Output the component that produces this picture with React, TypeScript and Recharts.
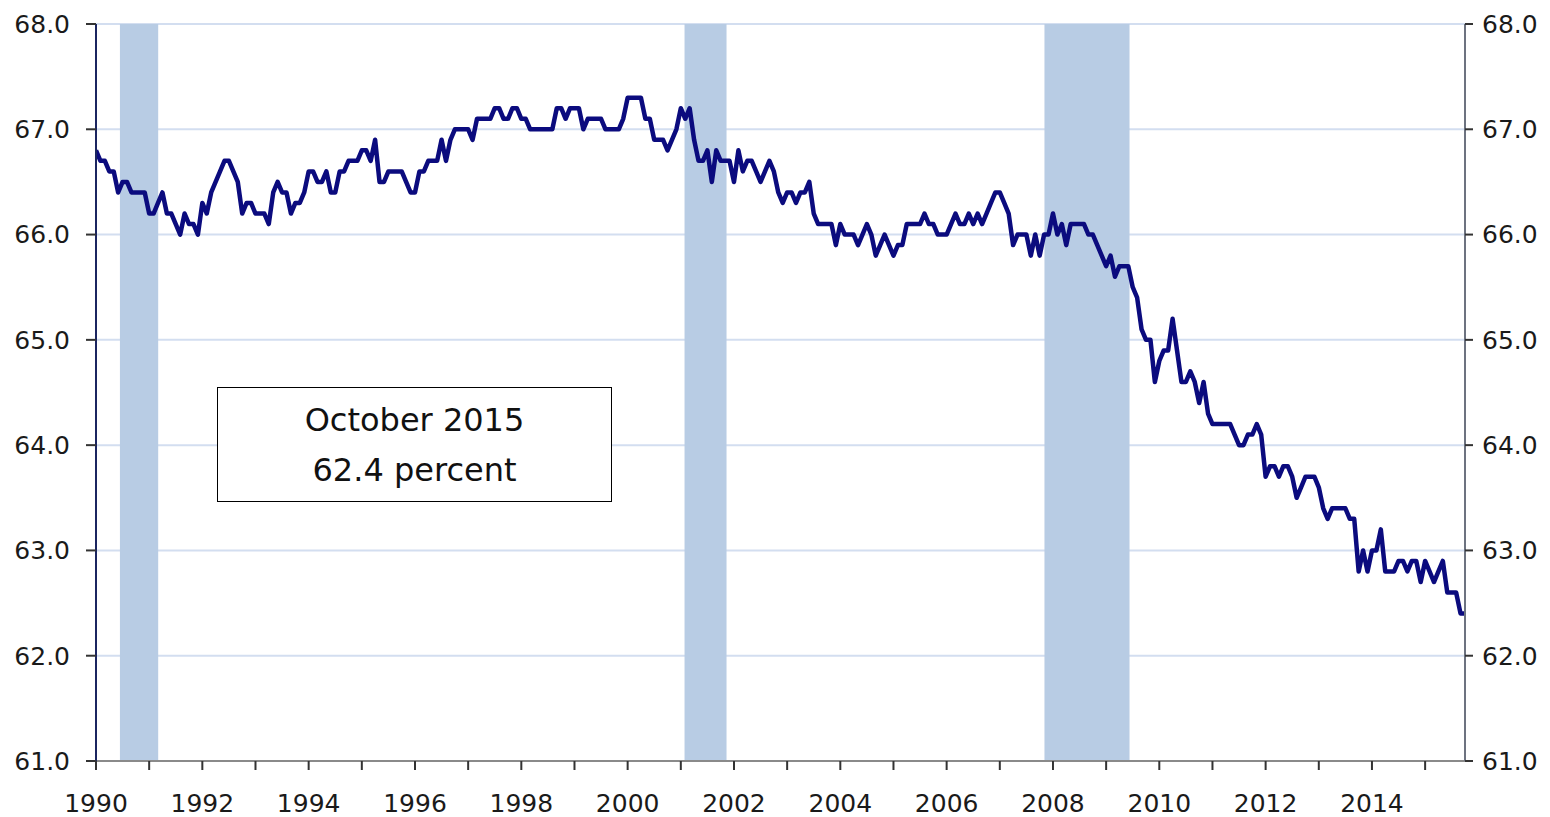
import {
  CartesianGrid,
  ComposedChart,
  Line,
  ReferenceArea,
  XAxis,
  YAxis,
} from "recharts";

// #region Sample data
// Monthly labor force participation rate, percent (Jan..Dec)
const startYear = 1990;
const r1990 = [66.8, 66.7, 66.7, 66.6, 66.6, 66.4, 66.5, 66.5, 66.4, 66.4, 66.4, 66.4];
const r1991 = [66.2, 66.2, 66.3, 66.4, 66.2, 66.2, 66.1, 66.0, 66.2, 66.1, 66.1, 66.0];
const r1992 = [66.3, 66.2, 66.4, 66.5, 66.6, 66.7, 66.7, 66.6, 66.5, 66.2, 66.3, 66.3];
const r1993 = [66.2, 66.2, 66.2, 66.1, 66.4, 66.5, 66.4, 66.4, 66.2, 66.3, 66.3, 66.4];
const r1994 = [66.6, 66.6, 66.5, 66.5, 66.6, 66.4, 66.4, 66.6, 66.6, 66.7, 66.7, 66.7];
const r1995 = [66.8, 66.8, 66.7, 66.9, 66.5, 66.5, 66.6, 66.6, 66.6, 66.6, 66.5, 66.4];
const r1996 = [66.4, 66.6, 66.6, 66.7, 66.7, 66.7, 66.9, 66.7, 66.9, 67.0, 67.0, 67.0];
const r1997 = [67.0, 66.9, 67.1, 67.1, 67.1, 67.1, 67.2, 67.2, 67.1, 67.1, 67.2, 67.2];
const r1998 = [67.1, 67.1, 67.0, 67.0, 67.0, 67.0, 67.0, 67.0, 67.2, 67.2, 67.1, 67.2];
const r1999 = [67.2, 67.2, 67.0, 67.1, 67.1, 67.1, 67.1, 67.0, 67.0, 67.0, 67.0, 67.1];
const r2000 = [67.3, 67.3, 67.3, 67.3, 67.1, 67.1, 66.9, 66.9, 66.9, 66.8, 66.9, 67.0];
const r2001 = [67.2, 67.1, 67.2, 66.9, 66.7, 66.7, 66.8, 66.5, 66.8, 66.7, 66.7, 66.7];
const r2002 = [66.5, 66.8, 66.6, 66.7, 66.7, 66.6, 66.5, 66.6, 66.7, 66.6, 66.4, 66.3];
const r2003 = [66.4, 66.4, 66.3, 66.4, 66.4, 66.5, 66.2, 66.1, 66.1, 66.1, 66.1, 65.9];
const r2004 = [66.1, 66.0, 66.0, 66.0, 65.9, 66.0, 66.1, 66.0, 65.8, 65.9, 66.0, 65.9];
const r2005 = [65.8, 65.9, 65.9, 66.1, 66.1, 66.1, 66.1, 66.2, 66.1, 66.1, 66.0, 66.0];
const r2006 = [66.0, 66.1, 66.2, 66.1, 66.1, 66.2, 66.1, 66.2, 66.1, 66.2, 66.3, 66.4];
const r2007 = [66.4, 66.3, 66.2, 65.9, 66.0, 66.0, 66.0, 65.8, 66.0, 65.8, 66.0, 66.0];
const r2008 = [66.2, 66.0, 66.1, 65.9, 66.1, 66.1, 66.1, 66.1, 66.0, 66.0, 65.9, 65.8];
const r2009 = [65.7, 65.8, 65.6, 65.7, 65.7, 65.7, 65.5, 65.4, 65.1, 65.0, 65.0, 64.6];
const r2010 = [64.8, 64.9, 64.9, 65.2, 64.9, 64.6, 64.6, 64.7, 64.6, 64.4, 64.6, 64.3];
const r2011 = [64.2, 64.2, 64.2, 64.2, 64.2, 64.1, 64.0, 64.0, 64.1, 64.1, 64.2, 64.1];
const r2012 = [63.7, 63.8, 63.8, 63.7, 63.8, 63.8, 63.7, 63.5, 63.6, 63.7, 63.7, 63.7];
const r2013 = [63.6, 63.4, 63.3, 63.4, 63.4, 63.4, 63.4, 63.3, 63.3, 62.8, 63.0, 62.8];
const r2014 = [63.0, 63.0, 63.2, 62.8, 62.8, 62.8, 62.9, 62.9, 62.8, 62.9, 62.9, 62.7];
const r2015 = [62.9, 62.8, 62.7, 62.8, 62.9, 62.6, 62.6, 62.6, 62.4, 62.4];

const yearlyRates = [
  r1990, r1991, r1992, r1993, r1994, r1995, r1996, r1997, r1998, r1999,
  r2000, r2001, r2002, r2003, r2004, r2005, r2006, r2007, r2008, r2009,
  r2010, r2011, r2012, r2013, r2014, r2015,
];

// Shaded recession periods (fractional years)
const recessions = [
  { start: 1990.45, end: 1991.17 },
  { start: 2001.07, end: 2001.86 },
  { start: 2007.84, end: 2009.44 },
];

const yTicks = [61, 62, 63, 64, 65, 66, 67, 68];
const xTicks = [
  1990, 1991, 1992, 1993, 1994, 1995, 1996, 1997, 1998, 1999, 2000, 2001, 2002,
  2003, 2004, 2005, 2006, 2007, 2008, 2009, 2010, 2011, 2012, 2013, 2014, 2015,
];
const noteLines = ["October 2015", "62.4 percent"];
// #endregion

const data = yearlyRates.flatMap((rates, i) =>
  rates.map((rate, m) => ({ t: startYear + i + m / 12, rate }))
);

const FONT = "'DejaVu Sans', Verdana, sans-serif";
const tickStyle = { fontSize: 25, fill: "#1a1a1a", fontFamily: FONT };

export default function App() {
  return (
    <div style={{ position: "absolute", left: 0, top: 0, width: 1550, height: 817, background: "#fff" }}>
      <ComposedChart
        width={1550}
        height={817}
        data={data}
        margin={{ top: 24, right: 0, left: 0, bottom: 0 }}
      >
        <CartesianGrid horizontal vertical={false} stroke="#d3def0" strokeWidth={2} />
        {recessions.map((r) => (
          <ReferenceArea
            key={r.start}
            x1={r.start}
            x2={r.end}
            y1={61}
            y2={68}
            fill="#b8cce4"
            fillOpacity={1}
            stroke="none"
          />
        ))}
        <XAxis
          dataKey="t"
          type="number"
          domain={[1990, 2015.75]}
          ticks={xTicks}
          interval={0}
          allowDataOverflow
          tickFormatter={(v: number) => (v % 2 === 0 ? String(v) : "")}
          height={56}
          tickSize={9}
          tickMargin={24}
          tick={tickStyle}
          axisLine={{ stroke: "#8a8a8a", strokeWidth: 2 }}
          tickLine={{ stroke: "#333", strokeWidth: 2 }}
        />
        <YAxis
          domain={[61, 68]}
          ticks={yTicks}
          interval={0}
          tickFormatter={(v: number) => v.toFixed(1)}
          width={96}
          tickSize={10}
          tickMargin={16}
          tick={tickStyle}
          axisLine={{ stroke: "#1b2560", strokeWidth: 2 }}
          tickLine={{ stroke: "#333", strokeWidth: 2 }}
        />
        <YAxis
          yAxisId="right"
          orientation="right"
          domain={[61, 68]}
          ticks={yTicks}
          interval={0}
          tickFormatter={(v: number) => v.toFixed(1)}
          width={85}
          tickSize={8}
          tickMargin={9}
          tick={tickStyle}
          axisLine={{ stroke: "#6d7380", strokeWidth: 2 }}
          tickLine={{ stroke: "#333", strokeWidth: 2 }}
        />
        <Line
          yAxisId="right"
          type="linear"
          dataKey="rate"
          stroke="none"
          strokeOpacity={0}
          dot={false}
          activeDot={false}
          isAnimationActive={false}
        />
        <Line
          type="linear"
          dataKey="rate"
          stroke="#0b0b7e"
          strokeWidth={4.5}
          strokeLinejoin="round"
          dot={false}
          isAnimationActive={false}
        />
      </ComposedChart>
      <div
        style={{
          position: "absolute",
          left: 217,
          top: 387,
          width: 395,
          height: 115,
          boxSizing: "border-box",
          border: "1px solid #000",
          background: "#fff",
          textAlign: "center",
          fontFamily: FONT,
          fontSize: 32,
          lineHeight: "50px",
          paddingTop: 7,
          color: "#111",
        }}
      >
        {noteLines.map((l) => (
          <div key={l}>{l}</div>
        ))}
      </div>
    </div>
  );
}
